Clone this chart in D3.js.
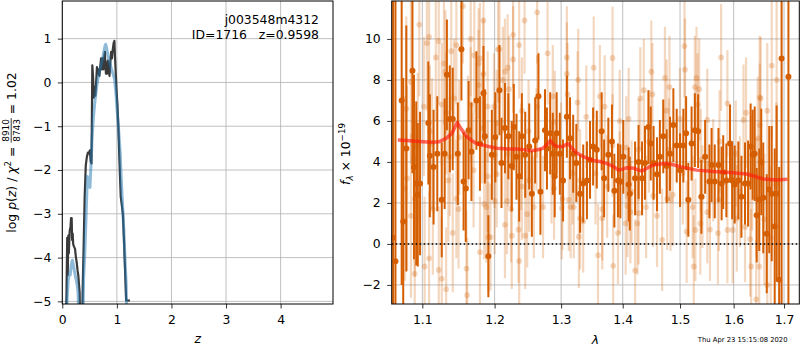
<!DOCTYPE html>
<html><head><meta charset="utf-8">
<script src="https://cdn.jsdelivr.net/npm/d3@7"></script>
<style>body{margin:0;background:#fff}svg{display:block}text{font-family:"DejaVu Sans",sans-serif}</style>
</head><body><svg id="c" width="800" height="350"></svg>
<script>
// ---------- Left panel data: log p(z) ----------
const chiZ  = [0.065,0.08,0.09,0.1,0.11,0.12,0.135,0.15,0.16,0.172,0.18,0.19,0.2,0.215,0.233,0.25,0.263,0.28,0.293,0.305,0.318,0.33,
  0.36,0.375,0.39,0.41,0.43,0.45,0.47,0.49,0.505,0.52,0.535,0.55,0.565,0.575,0.59,0.605,0.62,0.635,0.65,0.665,0.68,0.695,0.71,0.725,0.74,0.755,0.77,0.78,0.79,0.8,0.81,0.82,0.835,0.85,0.865,0.88,0.895,0.91,0.925,0.94,0.955,0.965,0.98,0.995,1.01,1.03,1.05,1.07,1.09,1.11,1.13,1.15,1.17,1.18,1.24];
const chiLogp = [-6,-4.5,-3.55,-4.4,-3.5,-3.9,-3.4,-3.3,-3.1,-3.1,-3.6,-3.45,-3.7,-3.75,-3.8,-4.0,-4.1,-4.3,-4.4,-4.6,-4.8,-6,
  -6,-4.6,-3.8,-2.6,-1.9,-1.7,-1.6,-1.62,-1.55,-1.8,-1.85,0.39,0.1,-0.35,-0.1,-0.3,0.0,0.35,0.2,0.3,0.15,0.35,0.55,0.3,0.55,0.3,0.6,0.7,0.4,0.2,0.45,0.2,0.5,0.3,0.15,0.45,0.7,0.55,0.75,0.9,0.95,0.6,0.2,-0.2,-0.5,-1.1,-1.9,-2.6,-2.8,-3.0,-3.6,-4.3,-4.98,-4.98,-4.98];
const pzZ   = [0.06,0.09,0.11,0.13,0.145,0.16,0.175,0.185,0.2,0.22,0.245,0.27,0.29,0.31,
  0.37,0.39,0.415,0.44,0.458,0.475,0.49,0.507,0.525,0.545,0.57,0.6,0.63,0.66,0.69,0.72,0.75,0.78,0.795,0.81,0.83,0.85,0.87,0.9,0.93,0.96,0.98,1.0,1.03,1.06,1.08,1.1,1.125,1.15,1.17,1.19];
const pzLogp = [-6,-4.9,-4.5,-4.35,-4.4,-4.2,-4.1,-4.06,-4.15,-4.3,-4.45,-4.6,-4.8,-6,
  -6,-4.5,-3.8,-2.9,-2.15,-2.3,-2.2,-2.4,-1.9,-1.3,-0.8,-0.4,-0.1,0.13,0.3,0.45,0.62,0.82,0.87,0.8,0.65,0.55,0.45,0.3,0.2,0.05,-0.2,-0.56,-1.05,-1.6,-2.2,-2.7,-3.3,-4.06,-4.6,-6];
const zTicks = [0,1,2,3,4];
const logpTicks = [-5,-4,-3,-2,-1,0,1];

// ---------- Right panel data: spectrum [lambda, flux, err] ----------
const darkSpec = [
 [1.062,0.3,15],[1.065,-0.85,15],[1.073,7.0,9],[1.075,1.1,7],[1.079,4.65,6],[1.087,8.45,5],[1.089,3.75,4.5],[1.092,2.95,4],[1.094,2.4,3.5],[1.097,2.95,3.5],
 [1.108,5.9,3],[1.110,4.3,3],[1.115,3.75,2.8],[1.120,4.4,2.8],[1.126,2.15,2.8],[1.130,4.4,2.7],[1.133,8.25,2.7],[1.137,6.1,2.6],[1.141,6.1,2.5],[1.148,4.4,2.5],
 [1.153,9.5,2.5],[1.156,3.05,2.4],[1.159,2.7,2.6],[1.163,5.55,2.4],[1.167,4.5,2.4],[1.174,7.0,2.4],[1.179,4.9,2.3],[1.184,7.35,2.3],[1.186,5.25,2.3],[1.191,-0.6,2.0],
 [1.196,4.35,2.2],[1.201,5.2,2.2],[1.207,7.5,2.2],[1.210,3.95,2.2],[1.215,5.65,2.2],[1.220,5.25,2.1],[1.225,3.8,2.2],[1.228,5.7,2.1],[1.232,4.25,2.1],[1.236,3.3,2.2],
 [1.240,5.25,2.1],[1.245,4.35,2.1],[1.251,4.75,2.1],[1.255,2.45,2.1],[1.260,5.05,2.1],[1.265,7.2,2.1],[1.268,2.55,2.1],[1.275,5.55,2.0],[1.278,4.65,2.0],[1.283,5.4,2.0],
 [1.287,4.4,2.0],[1.290,3.3,2.0],[1.293,5.4,2.0],[1.298,4.4,2.0],[1.303,3.1,2.0],[1.309,6.2,2.0],[1.314,5.15,2.0],[1.319,4.4,1.9],[1.324,3.95,1.9],[1.330,2.45,1.9],
 [1.335,2.95,1.9],[1.341,3.1,1.9],[1.346,4.1,1.9],[1.351,4.75,1.9],[1.357,4.6,1.9],[1.365,5.5,1.9],[1.369,3.2,1.9],[1.376,4.35,1.8],[1.382,5.0,1.8],[1.386,2.6,1.8],
 [1.392,3.1,1.8],[1.396,3.05,1.8],[1.401,4.25,1.8],[1.410,2.9,1.8],[1.412,2.45,1.8],[1.421,3.2,1.8],[1.427,4.0,1.8],[1.433,3.2,1.8],[1.438,3.95,1.8],[1.444,5.7,1.8],
 [1.448,4.9,1.8],[1.453,3.95,1.8],[1.459,3.4,1.8],[1.464,4.25,1.8],[1.470,5.25,1.8],[1.476,3.8,1.8],[1.482,4.4,1.8],[1.488,5.8,1.8],[1.494,4.8,1.8],[1.500,3.6,1.8],
 [1.506,4.8,1.8],[1.511,5.4,1.8],[1.515,2.15,1.8],[1.521,4.9,1.8],[1.527,5.55,1.8],[1.533,5.5,1.8],[1.539,2.3,1.8],[1.546,4.25,1.8],[1.554,3.05,1.8],[1.558,3.85,1.8],
 [1.564,3.05,1.8],[1.571,3.85,1.8],[1.577,2.95,1.8],[1.580,3.5,1.8],[1.586,3.1,1.8],[1.593,4.9,1.9],[1.597,3.1,1.9],[1.602,2.9,1.9],[1.609,3.1,1.9],[1.615,2.3,2.0],
 [1.622,2.95,2.0],[1.628,2.95,2.1],[1.633,4.75,2.1],[1.637,4.35,2.2],[1.641,4.4,2.3],[1.645,1.4,2.3],[1.650,2.15,2.5],[1.654,4.0,2.6],[1.658,2.25,2.7],[1.665,0.5,2.9],
 [1.670,2.65,3.1],[1.675,2.45,3.3],[1.681,0.85,3.8],[1.685,2.45,4.3],[1.690,-1.75,5.5],[1.695,9.05,12],[1.709,8.15,15]
];
const lightSpec = [
 [1.077,2.7,4.5],[1.079,6.6,4.5],[1.080,3.2,4.5],[1.085,7.9,4],[1.085,1.37,4],[1.089,4.2,4],[1.090,-1.46,3.8],[1.090,2.2,3.8],[1.094,4.75,3.6],[1.096,10.7,3.5],
 [1.102,6.7,3.4],[1.103,-1.1,3.4],[1.106,9.8,3.3],[1.109,10.1,3.3],[1.109,-0.7,3.3],[1.110,5.5,3.2],[1.113,4.9,3.2],[1.114,1.7,3.2],[1.118,9.1,3.1],[1.122,9.9,3.1],
 [1.122,-1.27,3.1],[1.126,6.8,3.0],[1.126,-1.7,3.0],[1.129,8.8,3.0],[1.131,8.4,3.0],[1.132,6.4,3.0],[1.132,-2.2,3.0],[1.135,3.1,3.0],[1.137,4.25,2.9],[1.139,9.4,2.9],
 [1.141,0.54,2.9],[1.143,7.1,2.9],[1.146,9.7,2.9],[1.146,2.2,2.9],[1.149,1.7,2.9],[1.150,5.2,2.8],[1.155,11.6,2.8],[1.160,-1.2,2.8],[1.161,-2.5,2.8],[1.162,5.4,2.8],
 [1.166,10.0,2.8],[1.166,6.8,2.8],[1.170,3.6,2.8],[1.171,9.2,2.8],[1.177,7.75,2.7],[1.177,8.8,2.7],[1.179,9.05,2.7],[1.179,-0.4,2.7],[1.182,5.65,2.7],[1.184,10.9,2.7],
 [1.184,8.3,2.7],[1.185,1.95,2.7],[1.188,1.8,2.7],[1.190,6.7,2.7],[1.190,3.3,2.7],[1.191,0.33,2.7],[1.194,0.33,2.6],[1.199,6.7,2.6],[1.200,2.1,2.6],[1.200,4.35,2.6],
 [1.203,5.9,2.6],[1.203,3.4,2.6],[1.205,9.5,2.6],[1.207,9.5,2.6],[1.212,8.0,2.6],[1.215,8.4,2.6],[1.215,0.93,2.6],[1.218,2.1,2.6],[1.219,8.6,2.6],[1.220,4.4,2.6],
 [1.221,7.55,2.6],[1.224,1.7,2.6],[1.225,0.4,2.6],[1.227,10.2,2.6],[1.227,9.0,2.6],[1.235,0.7,2.6],[1.236,9.7,2.6],[1.236,-0.83,2.6],[1.239,4.25,2.6],[1.240,6.5,2.6],
 [1.240,2.8,2.6],[1.244,10.9,2.6],[1.245,0.4,2.6],[1.248,1.45,2.6],[1.250,5.5,2.5],[1.251,3.1,2.5],[1.258,1.8,2.5],[1.262,5.1,2.5],[1.263,11.3,2.5],[1.263,6.7,2.5],
 [1.272,1.8,2.5],[1.279,9.3,2.5],[1.285,3.5,2.5],[1.287,7.2,2.5],[1.289,2.7,2.5],[1.290,5.95,2.5],[1.300,4.4,2.5],[1.301,1.75,2.5],[1.302,2.2,2.5],[1.309,9.1,2.5],
 [1.309,8.3,2.5],[1.310,7.3,2.5],[1.312,2.15,2.5],[1.315,1.8,2.5],[1.318,3.45,2.5],[1.320,1.8,2.5],[1.326,6.9,2.5],[1.327,8.0,2.5],[1.328,0.35,2.5],[1.330,3.1,2.5],
 [1.330,1.25,2.5],[1.335,1.1,2.5],[1.340,6.2,2.5],[1.352,8.6,2.5],[1.355,3.45,2.5],[1.359,-0.55,2.5],[1.362,7.2,2.5],[1.366,1.25,2.5],[1.366,1.7,2.5],[1.370,6.7,2.5],
 [1.374,2.8,2.5],[1.383,9.07,2.5],[1.383,4.8,2.5],[1.384,-1.07,2.5],[1.392,0.53,2.5],[1.395,6.0,2.5],[1.395,3.0,2.5],[1.405,1.0,2.5],[1.406,4.7,2.5],[1.408,1.85,2.5],
 [1.410,6.1,2.5],[1.413,1.55,2.5],[1.415,2.55,2.5],[1.421,-1.3,2.5],[1.425,1.0,2.5],[1.427,1.5,2.5],[1.427,4.6,2.5],[1.430,7.1,2.5],[1.436,7.5,2.5],[1.440,1.8,2.5],
 [1.445,5.0,2.5],[1.449,8.4,2.5],[1.451,7.3,2.5],[1.452,2.35,2.5],[1.459,1.37,2.5],[1.468,0.2,2.5],[1.473,8.1,2.5],[1.476,6.5,2.5],[1.477,2.2,2.5],[1.480,4.6,2.5],
 [1.481,7.65,2.5],[1.483,2.15,2.5],[1.487,2.4,2.5],[1.500,6.1,2.5],[1.505,3.45,2.5],[1.508,9.65,2.5],[1.509,8.5,2.5],[1.512,0.6,2.5],[1.523,1.8,2.5],[1.525,-1.1,2.5],
 [1.527,7.65,2.5],[1.528,0.68,2.5],[1.530,8.1,2.5],[1.532,6.8,2.5],[1.535,7.55,2.5],[1.537,1.0,2.5],[1.538,4.1,2.5],[1.541,2.3,2.5],[1.550,6.05,2.5],[1.550,1.55,2.5],
 [1.555,0.7,2.5],[1.561,3.6,2.5],[1.570,0.53,2.5],[1.572,2.15,2.5],[1.573,5.0,2.5],[1.576,9.1,2.6],[1.588,6.85,2.6],[1.588,0.68,2.6],[1.598,0.68,2.6],[1.604,4.4,2.6],
 [1.606,1.25,2.6],[1.612,2.55,2.7],[1.619,6.05,2.7],[1.622,0.83,2.7],[1.624,6.4,2.7],[1.632,0.23,2.8],[1.634,-1.1,2.8],[1.636,3.45,2.8],[1.644,2.25,2.9],[1.644,-2.7,2.9],
 [1.647,5.15,3.0],[1.650,-1.1,3.0],[1.651,5.8,3.0],[1.651,7.15,3.0],[1.653,7.1,3.0],[1.660,1.2,3.2],[1.666,6.5,3.3],[1.666,-2.0,3.3],[1.673,0.3,3.5],[1.675,8.7,3.6],
 [1.684,2.9,4],[1.685,8.0,4]
];
const modelLam  = [1.068,1.08,1.095,1.112,1.122,1.132,1.14,1.147,1.153,1.16,1.167,1.174,1.185,1.203,1.22,1.232,1.243,1.252,1.262,1.272,1.278,1.283,1.288,1.293,1.303,1.308,1.311,1.316,1.324,1.335,1.351,1.362,1.373,1.383,1.393,1.4,1.407,1.419,1.427,1.433,1.443,1.453,1.465,1.476,1.488,1.5,1.53,1.561,1.593,1.625,1.64,1.658,1.685,1.707];
const modelFlux = [5.07,5.04,5.0,4.96,4.98,5.15,5.4,5.92,5.6,5.25,5.05,4.9,4.8,4.67,4.63,4.63,4.6,4.55,4.58,4.67,4.85,5.04,4.85,4.75,4.75,4.85,4.9,4.7,4.45,4.26,4.07,4.02,3.93,3.8,3.6,3.65,3.72,3.69,3.6,3.56,3.72,3.85,3.9,3.93,3.86,3.77,3.6,3.53,3.48,3.41,3.3,3.17,3.12,3.15];
const lamTicks = [1.1,1.2,1.3,1.4,1.5,1.6,1.7];
const fluxTicks = [-2,0,2,4,6,8,10];
const objName = "j003548m4312";
const objInfo = "ID=1716   z=0.9598";
const stamp = "Thu Apr 23 15:15:08 2020";

// ---------- drawing ----------
const svg = d3.select("#c");
const FS = 12.4;
const G141 = "#d55e00";
const L = {x0:62.3, x1:333, y0:1, y1:304};
const R = {x0:391.7, x1:799.3, y0:1, y1:304};

const xL = d3.scaleLinear().domain([0,4.96]).range([L.x0,L.x1]);
const yL = d3.scaleLinear().domain([-5.06,1.86]).range([L.y1,L.y0]);
const xR = d3.scaleLog().domain([1.0602,1.7315]).range([R.x0,R.x1]);
const yR = d3.scaleLinear().domain([-2.93,11.85]).range([R.y1,R.y0]);

const defs = svg.append("defs");
function clip(id,b){defs.append("clipPath").attr("id",id).append("rect").attr("x",b.x0).attr("y",b.y0).attr("width",b.x1-b.x0).attr("height",b.y1-b.y0);}
clip("cl",L); clip("cr",R);

function grid(b,x,y,xt,yt){
  const g=svg.append("g").attr("stroke","#b0b0b0").attr("stroke-width",0.8);
  xt.forEach(v=>g.append("line").attr("x1",x(v)).attr("x2",x(v)).attr("y1",b.y0).attr("y2",b.y1));
  yt.forEach(v=>g.append("line").attr("y1",y(v)).attr("y2",y(v)).attr("x1",b.x0).attr("x2",b.x1));
}
function axes(b,x,y,xt,yt,fx,fy){
  const ax=svg.append("g").attr("transform",`translate(0,${b.y1})`)
    .call(d3.axisBottom(x).tickValues(xt).tickFormat(fx).tickSize(4.5).tickPadding(6.2).tickSizeOuter(0));
  const ay=svg.append("g").attr("transform",`translate(${b.x0},0)`)
    .call(d3.axisLeft(y).tickValues(yt).tickFormat(fy).tickSize(4.5).tickPadding(6.5).tickSizeOuter(0));
  [ax,ay].forEach(a=>{a.select(".domain").remove();a.attr("font-size",FS).attr("font-family","DejaVu Sans");
    a.selectAll("line").attr("stroke","#000").attr("stroke-width",0.8);a.selectAll("text").attr("fill","#000");});
  svg.append("rect").attr("x",b.x0).attr("y",b.y0).attr("width",b.x1-b.x0).attr("height",b.y1-b.y0)
    .attr("fill","none").attr("stroke","#000").attr("stroke-width",1);
}

// Left panel
grid(L,xL,yL,zTicks,logpTicks);
const gl = svg.append("g").attr("clip-path","url(#cl)");
const lineL = d3.line().x(d=>xL(d[0])).y(d=>yL(d[1]));
gl.append("path").datum(d3.zip(chiZ,chiLogp)).attr("d",lineL).attr("fill","none").attr("stroke","#3a3a3a").attr("stroke-width",2.2).attr("stroke-linejoin","round");
gl.append("path").datum(d3.zip(pzZ,pzLogp)).attr("d",lineL).attr("fill","none").attr("stroke","#1f77b4").attr("stroke-opacity",0.5).attr("stroke-width",3).attr("stroke-linejoin","round");
axes(L,xL,yL,zTicks,logpTicks,d3.format("d"),d3.format("d"));
svg.append("text").attr("x",319).attr("y",24).attr("text-anchor","end").attr("font-size",FS).text(objName);
svg.append("text").attr("x",319).attr("y",38.5).attr("text-anchor","end").attr("font-size",FS).style("white-space","pre").text(objInfo);

// Right panel
grid(R,xR,yR,lamTicks,fluxTicks);
const gr = svg.append("g").attr("clip-path","url(#cr)");
function spec(data,op,bw,r){
  const g=gr.append("g");
  g.selectAll("line").data(data).join("line")
    .attr("x1",d=>xR(d[0])).attr("x2",d=>xR(d[0])).attr("y1",d=>yR(d[1]-d[2])).attr("y2",d=>yR(d[1]+d[2]))
    .attr("stroke",G141).attr("stroke-opacity",op).attr("stroke-width",bw);
  g.selectAll("circle").data(data).join("circle")
    .attr("cx",d=>xR(d[0])).attr("cy",d=>yR(d[1])).attr("r",r).attr("fill",G141).attr("fill-opacity",op);
}
spec(lightSpec,0.25,2.2,2.9);
spec(darkSpec,1,2.0,3);
gr.append("path").datum(d3.zip(modelLam,modelFlux))
  .attr("d",d3.line().x(d=>xR(d[0])).y(d=>yR(d[1])).curve(d3.curveLinear))
  .attr("fill","none").attr("stroke","#ff1a0a").attr("stroke-opacity",0.65).attr("stroke-width",3.5).attr("stroke-linejoin","round");
gr.append("line").attr("x1",R.x0).attr("x2",R.x1).attr("y1",yR(0)).attr("y2",yR(0))
  .attr("stroke","#000").attr("stroke-width",1.5).attr("stroke-dasharray","1.5,2.5");
axes(R,xR,yR,lamTicks,fluxTicks,d3.format(".1f"),d3.format("d"));

// Axis labels
svg.append("text").attr("x",(L.x0+L.x1)/2).attr("y",343).attr("text-anchor","middle").attr("font-size",FS).attr("font-style","italic").text("z");
svg.append("text").attr("x",(R.x0+R.x1)/2).attr("y",344).attr("text-anchor","middle").attr("font-size",FS).attr("font-style","italic").text("λ");
svg.append("text").attr("x",787.5).attr("y",341.5).attr("text-anchor","end").attr("font-size",6.8).text(stamp);

function rotLabel(cx,cy,build){
  const outer=svg.append("g").attr("transform",`translate(${cx},${cy}) rotate(-90)`);
  const inner=outer.append("g");
  const st={u:0,g:inner};
  build(st);
  inner.attr("transform",`translate(${-st.u/2},0)`);
}
function piece(st,txt,o={}){
  const t=st.g.append("text").attr("x",st.u).attr("y",o.v||0).attr("font-size",o.fs||FS).style("white-space","pre");
  if(o.it) t.attr("font-style","italic");
  t.text(txt); st.u+=t.node().getComputedTextLength(); return t;
}
function frac(st,a,b){
  const fs=9;
  const ta=st.g.append("text").attr("y",-7.3).attr("font-size",fs).attr("text-anchor","middle").text(a);
  const tb=st.g.append("text").attr("y",4.2).attr("font-size",fs).attr("text-anchor","middle").text(b);
  const w=Math.max(ta.node().getComputedTextLength(),tb.node().getComputedTextLength())+1.5;
  ta.attr("x",st.u+w/2); tb.attr("x",st.u+w/2);
  st.g.append("line").attr("x1",st.u).attr("x2",st.u+w).attr("y1",-4.6).attr("y2",-4.6).attr("stroke","#000").attr("stroke-width",0.8);
  st.u+=w;
}
rotLabel(15.8,152.5,st=>{
  piece(st,"log "); piece(st,"p",{it:1}); piece(st,"("); piece(st,"z",{it:1}); piece(st,")");
  piece(st," / "); piece(st,"χ",{it:1}); piece(st,"2",{fs:8.7,v:-5}); piece(st," = ");
  frac(st,"8910","8743"); piece(st," = 1.02");
});
rotLabel(350,154,st=>{
  piece(st,"f",{it:1}); piece(st,"λ",{fs:8.7,v:3,it:1}); piece(st," × 10"); piece(st,"−19",{fs:8.7,v:-5});
});
</script></body></html>
